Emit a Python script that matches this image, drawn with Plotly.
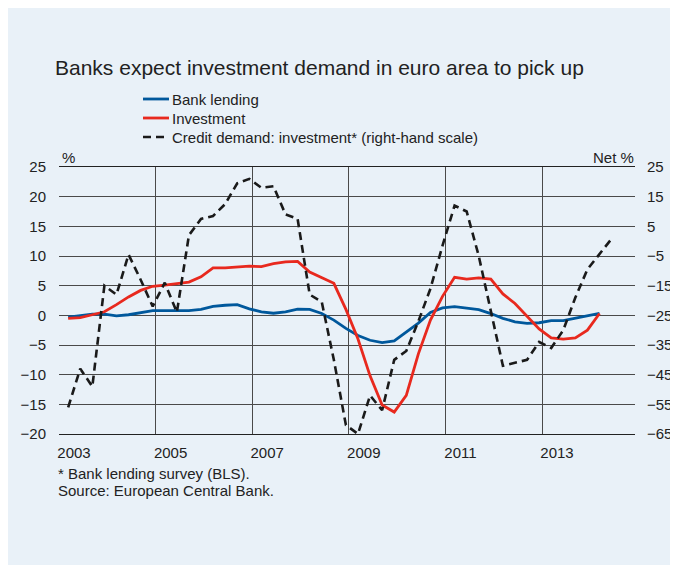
import plotly.graph_objects as go

# Quarterly periods 2003Q1 .. 2014Q2
quarters = [f"{y}Q{q}" for y in range(2003, 2015) for q in range(1, 5)][:46]

bank_lending = [-0.3, -0.1, 0.2, 0.2, -0.1, 0.1, 0.4, 0.8, 0.8, 0.8,
                0.8, 1.0, 1.5, 1.7, 1.8, 1.1, 0.6, 0.35, 0.6, 1.05,
                1.0, 0.3, -0.8, -2.2, -3.4, -4.2, -4.6, -4.3, -2.8, -1.3,
                0.5, 1.25, 1.45, 1.25, 0.95, 0.3, -0.5, -1.1, -1.35, -1.25,
                -0.9, -0.9, -0.5, -0.1, 0.35]

investment = [-0.5, -0.4, 0.1, 0.6, 1.8, 3.1, 4.2, 4.9, 5.1, 5.4,
              5.6, 6.5, 8.0, 8.0, 8.1, 8.3, 8.2, 8.7, 9.0, 9.1,
              7.3, 6.3, 5.4, 1.0, -4.0, -10.2, -15.1, -16.3, -13.5, -6.5,
              -0.8, 3.2, 6.4, 6.1, 6.3, 6.1, 3.6, 2.0, -0.2, -2.3,
              -3.8, -4.0, -3.8, -2.5, 0.3]

credit_demand = [-56, -43, -49, -15, -18, -4.5, -13, -22, -14, -24,
                 2, 7.5, 8.5, 12.5, 19.5, 21, 18, 18.5, 9, 7.5,
                 -18, -20.5, -40, -62, -65, -52, -57, -40, -37, -27,
                 -16, -1.5, 12, 10, -5, -23, -42, -41, -40, -34,
                 -36, -30, -19, -9.5, -4.5, 0.8]

series_names = ["Bank lending", "Investment", "Credit demand: investment* (right-hand scale)"]
year_ticks = [2003, 2005, 2007, 2009, 2011, 2013]
left_ticks = [25, 20, 15, 10, 5, 0, -5, -10, -15, -20]
right_ticks = [25, 15, 5, -5, -15, -25, -35, -45, -55, -65]


def qpos(label):
    y, q = label.split("Q")
    return int(y) + (int(q) - 1) / 4 + 0.19


xq = [qpos(q) for q in quarters]

BLUE = "#00589C"
RED = "#E8291E"
BG = "#E9F1F8"
TXT = "#222222"
GRID = "#4a4a4a"
FONT = "Liberation Sans, Arial, sans-serif"

W, H = 678, 557
L, R, T, B = 51, 51, 159, 131
PW, PH = W - L - R, H - T - B


def px(x):
    return (x - L) / PW


def py(y):
    return 1 - (y - T) / PH


styles = [dict(color=BLUE, width=2.8),
          dict(color=RED, width=2.8),
          dict(color="#1a1a1a", width=2.6, dash="8px,5px")]

fig = go.Figure()
fig.add_trace(go.Scatter(x=xq[:len(bank_lending)], y=bank_lending, name=series_names[0],
                         mode="lines", line=styles[0], showlegend=False))
fig.add_trace(go.Scatter(x=xq[:len(investment)], y=investment, name=series_names[1],
                         mode="lines", line=styles[1], showlegend=False))
fig.add_trace(go.Scatter(x=xq[:len(credit_demand)], y=credit_demand, name=series_names[2],
                         mode="lines", yaxis="y2", line=styles[2], showlegend=False))

fig.update_layout(
    width=W, height=H,
    paper_bgcolor=BG, plot_bgcolor=BG,
    margin=dict(l=L, r=R, t=T, b=B, autoexpand=False),
    font=dict(family=FONT, size=15, color=TXT),
    title=dict(text="Banks expect investment demand in euro area to pick up",
               x=47 / W, xanchor="left", xref="container",
               y=1 - 60 / H, yanchor="middle", yref="container",
               font=dict(size=21, color=TXT, family=FONT)),
    xaxis=dict(range=[2003, 2014.925], tickmode="array", tickvals=year_ticks,
               ticktext=[str(y) for y in year_ticks], showgrid=True, gridcolor=GRID,
               gridwidth=1, showline=True, linecolor="#222", linewidth=1.2, mirror=True,
               ticks="", zeroline=False, ticklabelshift=15, ticklabelstandoff=5,
               tickfont=dict(size=15, color=TXT)),
    yaxis=dict(range=[-20, 25], tickmode="array", tickvals=left_ticks,
               showgrid=True, gridcolor=GRID, gridwidth=1, zeroline=False,
               ticks="", showline=False, ticklabelstandoff=12,
               tickfont=dict(size=15, color=TXT)),
    yaxis2=dict(range=[-65, 25], tickmode="array", tickvals=right_ticks,
                overlaying="y", side="right", showgrid=False, zeroline=False,
                ticks="", showline=False, ticklabelstandoff=11,
                tickfont=dict(size=15, color=TXT)),
)

# legend drawn as line samples + labels
legend_rows = [91, 110, 129]
for name, st, ry in zip(series_names, styles, legend_rows):
    fig.add_shape(type="line", xref="paper", yref="paper",
                  x0=px(135), x1=px(161), y0=py(ry), y1=py(ry),
                  line=dict(color=st["color"], width=st["width"], dash=st.get("dash", "solid")))
    fig.add_annotation(text=name, xref="paper", yref="paper", x=px(162), y=py(ry),
                       xanchor="left", yanchor="middle", showarrow=False,
                       font=dict(size=15, color=TXT))

fig.add_annotation(text="%", xref="paper", yref="paper", x=px(60), y=py(150),
                   xanchor="center", yanchor="middle", showarrow=False,
                   font=dict(size=15, color=TXT))
fig.add_annotation(text="Net %", xref="paper", yref="paper", x=px(628), y=py(150),
                   xanchor="right", yanchor="middle", showarrow=False,
                   font=dict(size=15, color=TXT))
for txt, ry in zip(["* Bank lending survey (BLS).", "Source: European Central Bank."], [465, 482]):
    fig.add_annotation(text=txt, xref="paper", yref="paper", x=px(48), y=py(ry),
                       xanchor="left", yanchor="middle", align="left", showarrow=False,
                       font=dict(size=15, color=TXT))

fig.write_html("out.html")
